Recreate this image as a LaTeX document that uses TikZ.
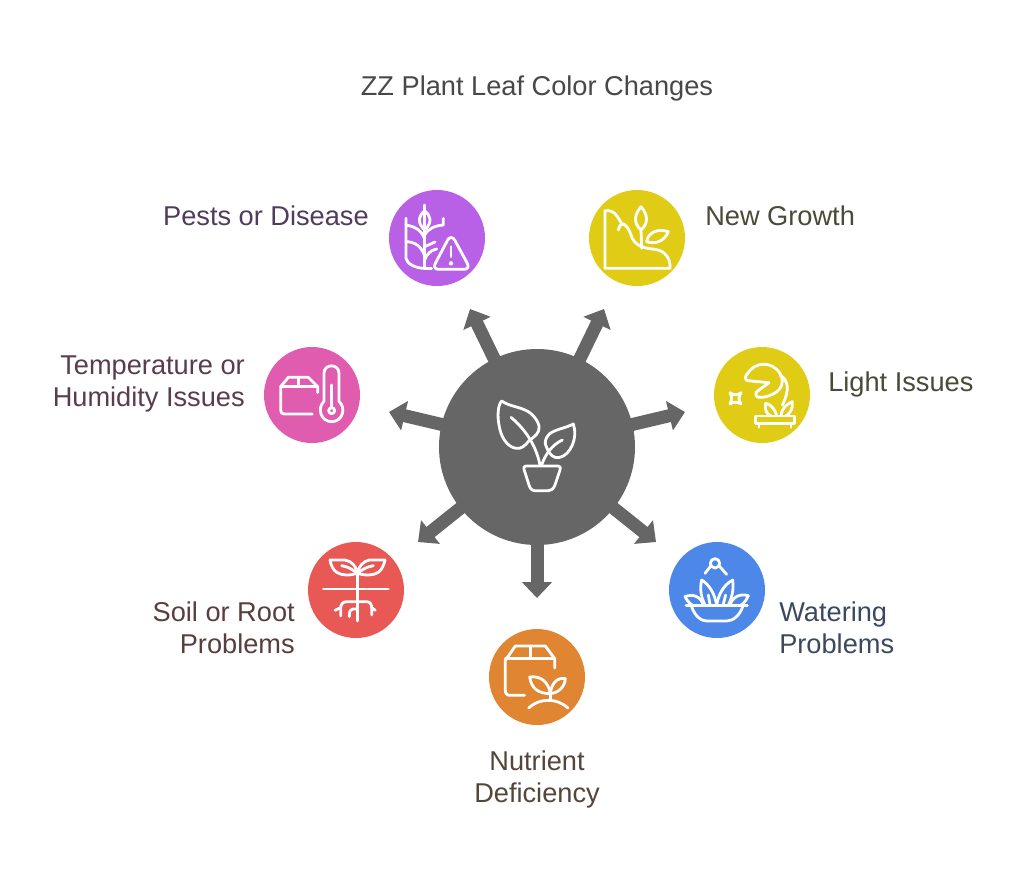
\documentclass[tikz,border=0pt]{standalone}
\usepackage{fontspec}
\setmainfont{Liberation Sans}
\usetikzlibrary{arrows.meta}
\definecolor{hubgray}{HTML}{666666}
\definecolor{cpurple}{HTML}{B860E6}
\definecolor{cyellow}{HTML}{E0CC14}
\definecolor{cpink}{HTML}{E05CAE}
\definecolor{cblue}{HTML}{4D88E8}
\definecolor{cred}{HTML}{E85855}
\definecolor{corange}{HTML}{E08632}
\definecolor{tpurple}{HTML}{503C5C}
\definecolor{tyellow}{HTML}{4A4A38}
\definecolor{tpink}{HTML}{5A3C4C}
\definecolor{tblue}{HTML}{3C485E}
\definecolor{tred}{HTML}{5A3E3E}
\definecolor{torange}{HTML}{55463A}
\definecolor{ttitle}{HTML}{484848}
\tikzset{
  hubnode/.style={circle,fill=hubgray,inner sep=0pt,minimum size=147pt},
  topic/.style={circle,fill=#1,inner sep=0pt,minimum size=72pt},
  label/.style={font=\fontsize{20.4pt}{24pt}\selectfont,inner sep=0pt},
  spoke/.style={draw=hubgray,line width=9.75pt,-{Triangle[width=22pt,length=12pt,fill=hubgray]}},
  icon/.style={draw=white,line width=2.1pt,line cap=round,line join=round,x=0.25pt,y=-0.25pt}
}
\begin{document}
\begin{tikzpicture}[x=0.75pt,y=-0.75pt]
\useasboundingbox (0,0) rectangle (1024,876);
\fill[white] (0,0) rectangle (1024,876);
\node[label,text=ttitle] (title) at (537,88) {ZZ Plant Leaf Color Changes};
\node[hubnode] (hub) at (537,447) {};
\coordinate (tp) at (470,309);
\coordinate (tn) at (604,309);
\coordinate (tl) at (685,412);
\coordinate (tw) at (656,542);
\coordinate (td) at (537,598);
\coordinate (ts) at (418,542);
\coordinate (tt) at (389,412);
\foreach \t in {tp,tn,tl,tw,td,ts,tt} \draw[spoke] (hub.center) -- (\t);
\node[topic=cpurple] (pests) at (437,238) {};
\node[topic=cyellow] (growth) at (637,238) {};
\node[topic=cyellow] (light) at (762,395) {};
\node[topic=cblue] (water) at (717,590) {};
\node[topic=corange] (nutr) at (537,677) {};
\node[topic=cred] (soil) at (356,590) {};
\node[topic=cpink] (temp) at (312,395) {};
\node[label,text=tpurple,anchor=east] (lp) at (369,216) {Pests or Disease};
\node[label,text=tyellow,anchor=west] (ln) at (705,216) {New Growth};
\node[label,text=tyellow,anchor=west] (ll) at (828,384) {Light Issues};
\node[label,text=tblue,anchor=west,align=left] (lw) at (779,628) {Watering\\Problems};
\node[label,text=torange,align=center] (ld) at (537,779) {Nutrient\\Deficiency};
\node[label,text=tred,anchor=east,align=right] (ls) at (295,628) {Soil or Root\\Problems};
\node[label,text=tpink,anchor=east,align=right] (lt) at (245,384) {Temperature or\\Humidity Issues};
% hub plant
\begin{scope}[shift={(430,340)},icon]
\draw (215,183) .. controls (240,200) and (270,200) .. (295,215) .. controls (320,232) and (332,258) .. (326,272) .. controls (320,288) and (305,295) .. (297,302) .. controls (285,318) and (272,328) .. (258,325) .. controls (230,320) and (212,290) .. (207,255) .. controls (202,230) and (203,195) .. (215,183) -- cycle;
\draw (243,232) .. controls (270,255) and (315,300) .. (330,375);
\draw (430,252) .. controls (405,265) and (375,268) .. (358,282) .. controls (345,295) and (342,310) .. (350,322) .. controls (358,345) and (372,357) .. (390,352) .. controls (420,345) and (445,295) .. (430,252) -- cycle;
\draw (397,300) .. controls (365,315) and (345,345) .. (335,375);
\draw (288,378) -- (385,378) .. controls (392,378) and (392,384) .. (390,390) -- (375,435) .. controls (370,448) and (362,452) .. (355,452) -- (315,452) .. controls (305,452) and (300,445) .. (297,435) -- (282,388) .. controls (280,382) and (283,378) .. (288,378) -- cycle;
\end{scope}
% pests
\begin{scope}[shift={(380,180)},icon]
\draw (134,75) -- (134,265) -- (155,265);
\draw (134,92) .. controls (118,105) and (108,125) .. (134,150) .. controls (160,125) and (150,105) .. (134,92) -- cycle;
\draw (190,115) -- (190,135) .. controls (165,137) and (145,145) .. (134,165);
\draw (78,115) -- (78,235) .. controls (80,250) and (105,265) .. (134,265);
\draw (78,135) .. controls (105,140) and (125,150) .. (134,178);
\draw (78,185) .. controls (105,185) and (125,200) .. (134,228);
\draw (165,186) -- (134,200);
\draw (170,207) .. controls (155,210) and (140,220) .. (134,240);
\draw (203,180) .. controls (208,170) and (218,170) .. (224,180) -- (262,250) .. controls (268,262) and (262,268) .. (252,268) -- (175,268) .. controls (165,268) and (160,260) .. (166,250) -- cycle;
\draw (213,200) -- (213,230);
\fill[white] (213,250) circle (6.5);
\end{scope}
% new growth
\begin{scope}[shift={(580,180)},icon]
\draw (75,92) -- (75,265) -- (270,265) .. controls (272,235) and (255,212) .. (225,208) .. controls (195,205) and (170,200) .. (157,175) .. controls (150,160) and (148,145) .. (135,135) .. controls (125,128) and (118,135) .. (115,150);
\draw (75,92) .. controls (105,88) and (115,115) .. (125,130) .. controls (128,134) and (132,134) .. (135,135);
\draw (183,80) .. controls (162,105) and (160,130) .. (183,150) .. controls (206,130) and (204,105) .. (183,80) -- cycle;
\draw (183,150) -- (185,205);
\draw (265,155) .. controls (235,145) and (205,155) .. (200,185) .. controls (230,195) and (255,180) .. (265,155) -- cycle;
\end{scope}
% light
\begin{scope}[shift={(705,340)},icon]
\draw (128,100) .. controls (150,65) and (200,62) .. (225,100) .. controls (245,135) and (220,165) .. (172,172) .. controls (155,175) and (148,165) .. (155,155) -- (192,128) -- (128,122) .. controls (118,118) and (120,108) .. (128,100) -- cycle;
\draw (225,105) .. controls (250,120) and (255,150) .. (232,195);
\draw (152,228) -- (268,228) -- (268,250) -- (152,250) -- cycle;
\draw (162,250) -- (162,262);
\draw (258,250) -- (258,262);
\draw (215,228) .. controls (210,205) and (195,192) .. (182,190) .. controls (178,210) and (185,222) .. (198,228);
\draw (228,228) .. controls (230,205) and (245,192) .. (262,185) .. controls (265,205) and (255,222) .. (242,228);
\draw (75,158) .. controls (82,170) and (80,180) .. (75,192) .. controls (85,185) and (98,185) .. (108,192) .. controls (100,180) and (100,170) .. (108,158) .. controls (98,166) and (85,166) .. (75,158) -- cycle;
\end{scope}
% temperature
\begin{scope}[shift={(255,340)},icon]
\draw (188,158) -- (188,140) -- (160,112) -- (100,112) -- (77,140) -- (77,210) .. controls (77,218) and (80,222) .. (88,222) -- (172,222);
\draw (77,140) -- (188,140);
\draw (130,112) -- (130,140);
\draw (207,100) .. controls (207,70) and (252,70) .. (252,100) -- (252,184) .. controls (275,205) and (262,245) .. (230,245) .. controls (198,245) and (185,205) .. (207,184) -- cycle;
\draw (230,135) -- (230,202);
\draw (230,212) circle (9);
\end{scope}
% soil
\begin{scope}[shift={(300,535)},icon]
\draw (70,162) -- (265,162);
\draw (172,110) -- (172,258);
\draw (90,75) -- (135,75) .. controls (155,78) and (170,95) .. (172,115) .. controls (150,122) and (125,122) .. (110,112) .. controls (100,105) and (92,90) .. (90,75) -- cycle;
\draw (125,92) .. controls (145,95) and (160,105) .. (172,115);
\draw (255,75) -- (208,75) .. controls (190,78) and (175,95) .. (172,115) .. controls (195,122) and (220,122) .. (235,112) .. controls (245,105) and (252,90) .. (255,75) -- cycle;
\draw (220,92) .. controls (200,95) and (185,105) .. (172,115);
\draw (172,200) -- (140,200) .. controls (128,200) and (122,208) .. (122,220) -- (122,243);
\draw (105,226) -- (122,218);
\draw (172,200) -- (200,200) .. controls (210,200) and (215,208) .. (215,218) -- (215,240);
\draw (226,226) -- (215,218);
\draw (172,222) -- (158,222) .. controls (150,222) and (148,230) .. (148,245);
\end{scope}
% water
\begin{scope}[shift={(660,535)},icon]
\draw (165,85) circle (14);
\draw (135,115) -- (153,92);
\draw (200,118) -- (177,92);
\draw (78,212) -- (262,212);
\draw (95,215) .. controls (105,245) and (125,258) .. (140,258) -- (200,258) .. controls (220,258) and (240,240) .. (248,215);
\draw (75,185) .. controls (100,175) and (122,185) .. (130,210);
\draw (75,185) .. controls (82,198) and (90,207) .. (100,212);
\draw (265,182) .. controls (240,175) and (218,185) .. (210,210);
\draw (265,182) .. controls (258,198) and (250,207) .. (240,212);
\draw (125,135) .. controls (150,150) and (165,180) .. (170,210);
\draw (125,135) .. controls (118,165) and (125,190) .. (135,210);
\draw (218,135) .. controls (190,150) and (175,180) .. (170,210);
\draw (218,135) .. controls (222,165) and (215,190) .. (205,210);
\draw (145,180) -- (150,208);
\draw (197,180) -- (190,208);
\end{scope}
% nutrient
\begin{scope}[shift={(482,622)},icon]
\draw (218,138) -- (218,110) -- (190,72) -- (100,72) -- (70,115) -- (70,205) .. controls (70,215) and (75,220) .. (85,220) -- (128,220);
\draw (70,110) -- (218,110);
\draw (145,72) -- (145,110);
\draw (143,165) .. controls (175,160) and (200,180) .. (205,215) .. controls (170,215) and (148,200) .. (143,165) -- cycle;
\draw (250,170) .. controls (225,165) and (208,185) .. (205,215) .. controls (230,212) and (248,195) .. (250,170) -- cycle;
\draw (205,215) -- (205,235);
\draw (140,258) .. controls (160,240) and (180,235) .. (200,235) .. controls (220,235) and (240,242) .. (258,258);
\end{scope}
\end{tikzpicture}
\end{document}
